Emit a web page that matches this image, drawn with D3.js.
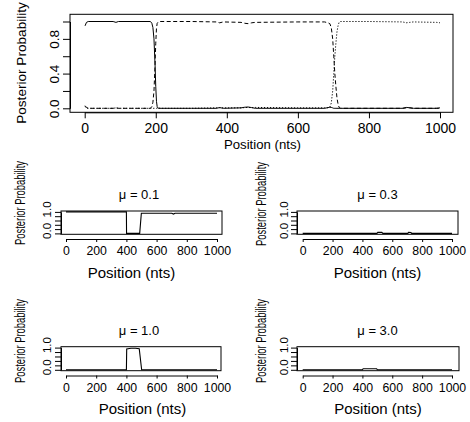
<!DOCTYPE html>
<html><head><meta charset="utf-8">
<script src="https://cdn.jsdelivr.net/npm/d3@7"></script>
<style>
body{margin:0;background:#fff}
svg{display:block;font-family:"Liberation Sans",Arial,Helvetica,sans-serif}
</style></head><body>
<svg id="chart" width="470" height="422"></svg>
<script>
// Posterior probability of each hidden state along the sequence
const statePos = [1,5,10,80,88,95,185,189,192,195,198,200,202,204,207,212,300,370,380,390,440,450,460,470,480,600,675,685,690,694,698,701,704,707,710,713,716,720,800,895,905,915,925,990,1000];
const state1 = [0.95,0.99,1,1,0.99,1,1,0.98,0.93,0.8,0.5,0.25,0.08,0.02,0,0,0,0,0.008,0,0.005,0.012,0.015,0.008,0,0,0,0.008,0.012,0.01,0.005,0,0,0,0,0,0,0,0,0,0.01,0.006,0,0,0.005];
const state2 = [0.03,0.01,0,0,0.005,0,0,0.02,0.07,0.2,0.5,0.75,0.92,0.98,0.995,1,1,0.995,0.985,0.995,0.99,0.98,0.975,0.985,0.99,0.995,0.995,0.985,0.975,0.93,0.8,0.6,0.4,0.25,0.12,0.05,0.01,0,0,0,0.005,0.005,0,0,0];
const state3 = [0.02,0,0,0,0.005,0,0,0,0,0,0,0,0,0,0.005,0,0,0.005,0.007,0.005,0.005,0.008,0.01,0.007,0.01,0.005,0.005,0.007,0.013,0.06,0.2,0.4,0.6,0.75,0.88,0.95,0.99,1,1,0.995,0.985,0.99,0.995,0.99,0.985];

// Posterior probability under different values of mu
const mu01Pos = [0,400,401,488,499,700,712,722,1000];
const mu01Val = [1,1,0,0,0.94,0.94,0.9,0.94,0.94];
const mu03Pos = [0,497,503,530,537,704,709,725,730,1000];
const mu03Val = [0,0,0.05,0.05,0,0,0.05,0.04,0,0];
const mu10Pos = [0,400,402,430,460,485,501,1000];
const mu10Val = [0,0,0.94,0.97,0.97,0.95,0,0];
const mu30Pos = [0,400,405,495,500,1000];
const mu30Val = [0,0,0.05,0.05,0,0];

const xTicks = [0,200,400,600,800,1000];
const topYTicks = [0,0.2,0.4,0.6,0.8,1];
const topYLabels = ["0.0","","0.4","","0.8",""];
const smallYTicks = [0,0.2,0.4,0.6,0.8,1];
const smallYLabels = ["0.0","","","","","1.0"];
const muTitles = ["\u03bc = 0.1","\u03bc = 0.3","\u03bc = 1.0","\u03bc = 3.0"];
const xTitle = "Position (nts)";
const yTitle = "Posterior Probability";

const svg = d3.select("#chart");
svg.append("rect").attr("width",470).attr("height",422).attr("fill","#fff");

function rotateYLabels(g, offset, size, shift) {
  g.selectAll(".tick text")
    .attr("transform","rotate(-90)")
    .attr("x",shift).attr("y",-offset).attr("dy",0)
    .attr("text-anchor","middle")
    .attr("font-size",size);
}

// ---- top panel ----
{
  const box = {l:70, t:14.3, r:453, b:112.3};
  const x = d3.scaleLinear().domain([0,1000]).range([84.7,440]);
  const y = d3.scaleLinear().domain([0,1]).range([108.3,21.5]);
  const g = svg.append("g");

  const yAx = g.append("g").attr("transform",`translate(${box.l},0)`)
    .call(d3.axisLeft(y).tickValues(topYTicks).tickSize(7).tickSizeOuter(0)
      .tickFormat((d,i)=>topYLabels[i]));
  rotateYLabels(yAx, 11, 13.5, 0);

  const xAx = g.append("g").attr("transform",`translate(0,${box.b})`)
    .call(d3.axisBottom(x).tickValues(xTicks).tickSize(6).tickSizeOuter(0)
      .tickFormat(d3.format("d")));
  xAx.selectAll(".tick text").attr("y",20.5).attr("dy",0).attr("font-size",14);

  [yAx,xAx].forEach(a=>{a.selectAll("line,path").attr("stroke","#000");a.attr("font-family",null);});

  const line = d3.line().x((d,i)=>x(statePos[i])).y(d=>y(d));
  const styles = [[state1,null],[state2,"4,2.5"],[state3,"1.2,1.8"]];
  styles.forEach(([vals,dash])=>{
    g.append("path").datum(vals).attr("d",line)
      .attr("fill","none").attr("stroke","#000").attr("stroke-width",1)
      .attr("stroke-dasharray",dash);
  });

  g.append("rect").attr("x",box.l).attr("y",box.t)
    .attr("width",box.r-box.l).attr("height",box.b-box.t)
    .attr("fill","none").attr("stroke","#000").attr("stroke-width",1);

  g.append("text").attr("x",262.4).attr("y",149).attr("text-anchor","middle")
    .attr("font-size",13.2).text(xTitle);
  g.append("text").attr("transform","translate(26,63) rotate(-90)")
    .attr("text-anchor","middle").attr("font-size",13.6).text(yTitle);
}

// ---- small panels ----
const panels = [
  {pos:mu01Pos, val:mu01Val, title:muTitles[0], l:61, r:222, t:211, b:234.3, x0:66, x1:217,
   axisY:239, ylabX:24.5, ylabY:203, tickX:51, titleX:139, titleY:198.5, xlabX:131.5, xlabY:278},
  {pos:mu03Pos, val:mu03Val, title:muTitles[1], l:297, r:458, t:211, b:234.3, x0:302.7, x1:452,
   axisY:239, ylabX:266, ylabY:204, tickX:288, titleX:377.5, titleY:198.5, xlabX:377.5, xlabY:278},
  {pos:mu10Pos, val:mu10Val, title:muTitles[2], l:61, r:221, t:346.7, b:370.7, x0:66, x1:217,
   axisY:375.5, ylabX:24.5, ylabY:341, tickX:51, titleX:139, titleY:335, xlabX:142.5, xlabY:414},
  {pos:mu30Pos, val:mu30Val, title:muTitles[3], l:297, r:459, t:346.7, b:370.7, x0:302.7, x1:452,
   axisY:375.5, ylabX:266, ylabY:341, tickX:288, titleX:377.5, titleY:335, xlabX:378, xlabY:414}
];

panels.forEach(p=>{
  const g = svg.append("g");
  const x = d3.scaleLinear().domain([0,1000]).range([p.x0,p.x1]);
  const y = d3.scaleLinear().domain([0,1]).range([p.b-0.9,p.t+0.9]);

  const yAx = g.append("g").attr("transform",`translate(${p.l},0)`)
    .call(d3.axisLeft(y).tickValues(smallYTicks).tickSize(6).tickSizeOuter(0)
      .tickFormat((d,i)=>smallYLabels[i]));
  rotateYLabels(yAx, p.l-p.tickX, 11.5, 3);

  const xAx = g.append("g").attr("transform",`translate(0,${p.axisY})`)
    .call(d3.axisBottom(x).tickValues(xTicks).tickSize(3).tickSizeOuter(0)
      .tickFormat(d3.format("d")));
  xAx.selectAll(".tick text").attr("y",16).attr("dy",0).attr("font-size",12.3);

  [yAx,xAx].forEach(a=>{a.selectAll("line,path").attr("stroke","#000");a.attr("font-family",null);});

  const line = d3.line().x((d,i)=>x(p.pos[i])).y(d=>y(d));
  g.append("path").datum(p.val).attr("d",line)
    .attr("fill","none").attr("stroke","#000").attr("stroke-width",1.1);

  g.append("rect").attr("x",p.l).attr("y",p.t)
    .attr("width",p.r-p.l).attr("height",p.b-p.t)
    .attr("fill","none").attr("stroke","#000").attr("stroke-width",1);

  g.append("text").attr("x",p.titleX).attr("y",p.titleY).attr("text-anchor","middle")
    .attr("font-size",13).text(p.title);
  g.append("text").attr("x",p.xlabX).attr("y",p.xlabY).attr("text-anchor","middle")
    .attr("font-size",15).text(xTitle);
  g.append("text").attr("transform",`translate(${p.ylabX},${p.ylabY}) rotate(-90)`)
    .attr("text-anchor","middle").attr("font-size",14.5)
    .attr("textLength",84).attr("lengthAdjust","spacingAndGlyphs").text(yTitle);
});
</script>
</body></html>
